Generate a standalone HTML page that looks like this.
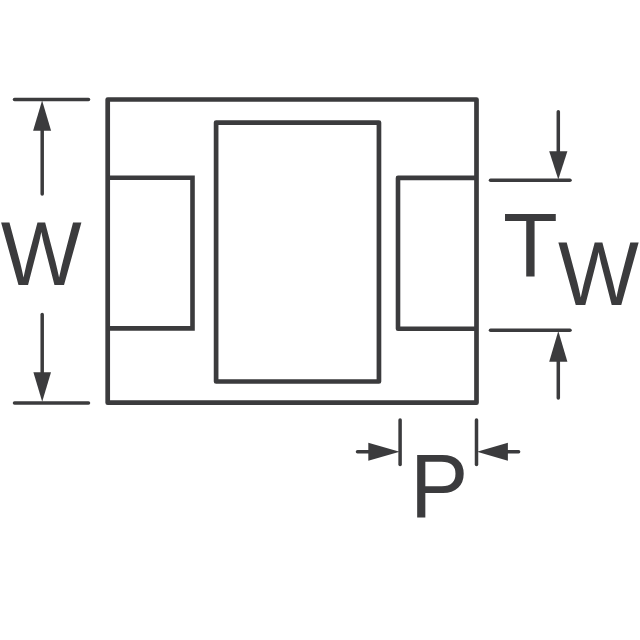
<!DOCTYPE html>
<html>
<head>
<meta charset="utf-8">
<title>Package dimensions</title>
<style>
html,body{margin:0;padding:0;background:#fff;}
body{width:640px;height:640px;overflow:hidden;}
svg{display:block;}
text{font-family:"Liberation Sans",Arial,Helvetica,sans-serif;fill:#3b3b3d;}
</style>
</head>
<body>
<svg width="640" height="640" viewBox="0 0 640 640">
  <rect width="640" height="640" fill="#ffffff"/>
  <g fill="none" stroke="#3b3b3d" stroke-width="4.7" stroke-linejoin="round" stroke-linecap="round">
    <!-- outer body -->
    <rect x="107.7" y="99.5" width="368.8" height="303.2"/>
    <!-- inner window -->
    <rect x="216.1" y="122.6" width="162.85" height="258.9"/>
  </g>
  <g fill="none" stroke="#3b3b3d" stroke-width="4.6" stroke-linejoin="miter">
    <!-- left pad -->
    <polyline points="107.7,177.8 192.5,177.8 192.5,328.4 107.7,328.4"/>
    <!-- right pad -->
    <polyline points="476.5,177.9 398,177.9 398,328.7 476.5,328.7" stroke-linejoin="round"/>
  </g>
  <g fill="none" stroke="#3b3b3d" stroke-width="3.5" stroke-linecap="round">
    <!-- W extension lines -->
    <line x1="14.5" y1="99.4" x2="88.5" y2="99.4"/>
    <line x1="14.5" y1="403" x2="88.5" y2="403"/>
    <!-- Tw extension lines -->
    <line x1="490.5" y1="180.3" x2="570" y2="180.3"/>
    <line x1="490.5" y1="330.2" x2="570" y2="330.2"/>
    <!-- P extension lines -->
    <line x1="400.1" y1="420" x2="400.1" y2="464.5"/>
    <line x1="476.5" y1="420" x2="476.5" y2="464.5"/>
  </g>
  <g fill="none" stroke="#3b3b3d" stroke-width="3.5" stroke-linecap="round">
    <!-- arrow shafts -->
    <line x1="42.2" y1="128" x2="42.2" y2="194"/>
    <line x1="42.2" y1="314.5" x2="42.2" y2="375"/>
    <line x1="558.3" y1="111.7" x2="558.3" y2="155"/>
    <line x1="558.3" y1="358" x2="558.3" y2="398"/>
    <line x1="357.5" y1="451.8" x2="372" y2="451.8"/>
    <line x1="505" y1="451.8" x2="518.6" y2="451.8"/>
  </g>
  <g fill="#3b3b3d" stroke="none">
    <!-- arrow heads -->
    <polygon points="42.1,100.5 51.1,130.7 33.1,130.7"/>
    <polygon points="42.2,401.7 51,372.2 33.4,372.2"/>
    <polygon points="558.3,179.5 567.4,151.3 549.2,151.3"/>
    <polygon points="558.3,331 567.4,361.8 549.2,361.8"/>
    <polygon points="399.6,451.8 368.3,460.8 368.3,442.8"/>
    <polygon points="477,451.8 507.9,460.8 507.9,442.8"/>
  </g>
  <text transform="translate(0.8 285.2) scale(0.986 1.04)" font-size="87">W</text>
  <text transform="translate(503.1 277.3) scale(1.032 1.046)" font-size="87">T</text>
  <text transform="translate(558.1 305.1) scale(0.986 1.04)" font-size="87">W</text>
  <text transform="translate(410.0 517.2) scale(1.005 1.046)" font-size="87">P</text>
</svg>
</body>
</html>
